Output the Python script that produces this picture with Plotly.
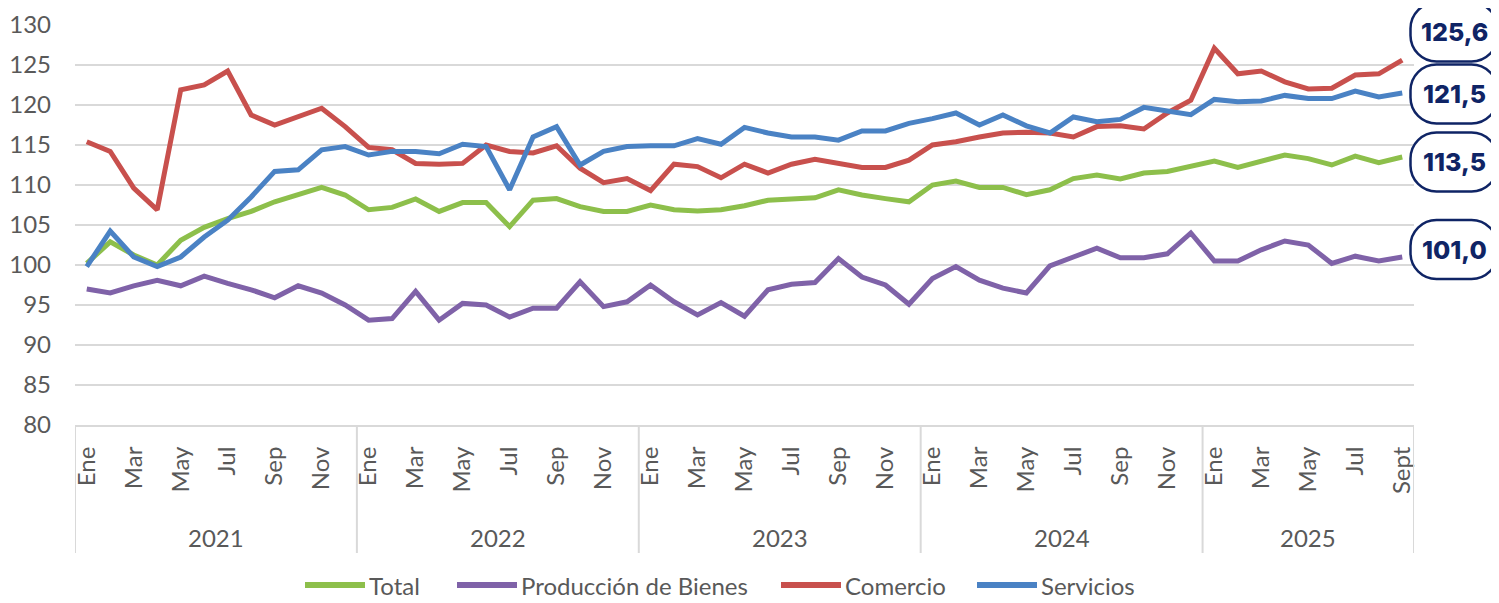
import plotly.graph_objects as go

years = ["2021", "2022", "2023", "2024", "2025"]
tick_labels = ["Ene", "Mar", "May", "Jul", "Sep", "Nov"] * 4 + ["Ene", "Mar", "May", "Jul", "Sept"]

total = [100.2, 102.9, 101.25, 100.0, 103.1, 104.7, 105.8, 106.7, 107.9, 108.75, 109.7, 108.75,
         106.9, 107.2, 108.25, 106.7, 107.8, 107.8, 104.8, 108.1, 108.3, 107.3, 106.7, 106.7,
         107.5, 106.9, 106.75, 106.9, 107.4, 108.1, 108.25, 108.4, 109.4, 108.75, 108.3, 107.9,
         110.0, 110.5, 109.7, 109.7, 108.8, 109.4, 110.8, 111.25, 110.75, 111.5, 111.7, 112.3,
         113.0, 112.2, 113.0, 113.75, 113.3, 112.5, 113.6, 112.8, 113.5]
produccion = [97.0, 96.5, 97.4, 98.1, 97.4, 98.6, 97.7, 96.9, 95.9, 97.4, 96.5, 95.0,
              93.1, 93.3, 96.7, 93.1, 95.2, 95.0, 93.5, 94.6, 94.6, 97.9, 94.8, 95.4,
              97.5, 95.4, 93.75, 95.3, 93.6, 96.9, 97.6, 97.8, 100.8, 98.5, 97.5, 95.1,
              98.3, 99.8, 98.1, 97.1, 96.5, 99.9, 101.0, 102.1, 100.9, 100.9, 101.4, 104.0,
              100.5, 100.5, 101.9, 103.0, 102.5, 100.2, 101.1, 100.5, 101.0]
comercio = [115.4, 114.2, 109.6, 106.9, 121.9, 122.5, 124.25, 118.75, 117.5, 118.5, 119.6, 117.3,
            114.7, 114.4, 112.7, 112.6, 112.7, 115.0, 114.2, 114.0, 114.9, 112.1, 110.3, 110.8,
            109.3, 112.6, 112.3, 110.9, 112.6, 111.5, 112.6, 113.2, 112.7, 112.2, 112.2, 113.1,
            115.0, 115.4, 116.0, 116.5, 116.6, 116.5, 116.0, 117.3, 117.4, 117.0, 119.0, 120.6,
            127.1, 123.9, 124.25, 122.9, 122.0, 122.1, 123.75, 123.9, 125.6]
servicios = [99.8, 104.25, 101.0, 99.8, 101.0, 103.5, 105.6, 108.5, 111.7, 111.9, 114.4, 114.8,
             113.75, 114.2, 114.2, 113.9, 115.1, 114.8, 109.4, 116.0, 117.3, 112.5, 114.2, 114.8,
             114.9, 114.9, 115.8, 115.1, 117.2, 116.5, 116.0, 116.0, 115.6, 116.75, 116.75, 117.7,
             118.3, 119.0, 117.5, 118.75, 117.4, 116.5, 118.5, 117.9, 118.2, 119.7, 119.25, 118.8,
             120.7, 120.4, 120.5, 121.2, 120.8, 120.8, 121.75, 121.0, 121.5]
end_labels = ["125,6", "121,5", "113,5", "101,0"]

n = len(total)
x = list(range(n))
tick_vals = [i for i in range(n) if i % 2 == 0]

GRAY = "#595959"
GRID = "#d9d9d9"
NAVY = "#0f2465"
FONT = "Lato"

series = [
    ("Total", total, "#8dbf4b"),
    ("Producción de Bienes", produccion, "#7f62a8"),
    ("Comercio", comercio, "#c8504d"),
    ("Servicios", servicios, "#4a82c4"),
]

fig = go.Figure()
for name, vals, col in series:
    fig.add_trace(go.Scatter(x=x, y=vals, mode="lines", name=name, showlegend=False,
                             line=dict(color=col, width=5)))

# plot-area pixel geometry (page coordinates) used to place decorations
PX0, PX1, PY0, PY1 = 75, 1414, 25, 425
def px_to_paper_x(px):
    return (px - PX0) / (PX1 - PX0)
def py_to_paper_y(py):
    return (PY1 - py) / (PY1 - PY0)

# year separators and labels
bounds = [-0.5 + 12 * k for k in range(len(years))] + [n - 0.5]
shapes = []
for b in bounds:
    shapes.append(dict(type="line", xref="x", yref="paper", x0=b, x1=b, y0=0, y1=-0.32,
                       line=dict(color=GRID, width=2)))
annotations = []
for k, yr in enumerate(years):
    mid = (bounds[k] + bounds[k + 1]) / 2
    annotations.append(dict(x=mid, y=-0.28, xref="x", yref="paper", text=yr, showarrow=False,
                            font=dict(family=FONT, size=24, color=GRAY), yanchor="middle"))

# manual legend (line swatch + label)
legend_line_start = [305, 457, 781, 977]
leg_y = py_to_paper_y(585)
for (name, _, col), lx in zip(series, legend_line_start):
    shapes.append(dict(type="line", xref="paper", yref="paper",
                       x0=px_to_paper_x(lx), x1=px_to_paper_x(lx + 60), y0=leg_y, y1=leg_y,
                       line=dict(color=col, width=6)))
    annotations.append(dict(x=px_to_paper_x(lx + 62), y=leg_y, xref="paper", yref="paper",
                            text=name, showarrow=False, xanchor="left", yanchor="middle",
                            font=dict(family=FONT, size=24, color=GRAY)))

# rounded end-value boxes
def pill(w, h, r):
    k = 0.5523 * r
    hw, hh = w / 2, h / 2
    return (f"M {-hw + r},{-hh} L {hw - r},{-hh} "
            f"C {hw - r + k},{-hh} {hw},{-hh + r - k} {hw},{-hh + r} "
            f"L {hw},{hh - r} "
            f"C {hw},{hh - r + k} {hw - r + k},{hh} {hw - r},{hh} "
            f"L {-hw + r},{hh} "
            f"C {-hw + r - k},{hh} {-hw},{hh - r + k} {-hw},{hh - r} "
            f"L {-hw},{-hh + r} "
            f"C {-hw},{-hh + r - k} {-hw + r - k},{-hh} {-hw + r},{-hh} Z")

box_x = px_to_paper_x(1454)
box_y = [py_to_paper_y(v) for v in (32, 94, 162, 249.5)]
for lab, by in zip(end_labels, box_y):
    shapes.append(dict(type="path", xref="paper", yref="paper", xsizemode="pixel", ysizemode="pixel",
                       xanchor=box_x, yanchor=by, path=pill(87, 59, 26),
                       line=dict(color=NAVY, width=2.5), fillcolor="white"))
    annotations.append(dict(x=box_x, y=by, xref="paper", yref="paper", text=lab, showarrow=False,
                            font=dict(family="Inter", size=25, color=NAVY, weight=800),
                            xanchor="center", yanchor="middle"))

# page body adds an 8px offset; compensate so the plot area lands at x 75-1414, y 25-425
fig.update_layout(
    width=1491, height=595,
    margin=dict(l=67, r=85, t=17, b=178, autoexpand=False),
    paper_bgcolor="white", plot_bgcolor="white",
    showlegend=False,
    shapes=shapes, annotations=annotations,
    xaxis=dict(range=[-0.5, n - 0.5], tickmode="array", tickvals=tick_vals, ticktext=tick_labels,
               tickangle=-90, tickfont=dict(family=FONT, size=24, color=GRAY),
               showgrid=False, zeroline=False, showline=True, linecolor=GRID, linewidth=2,
               ticks="", ticklabelstandoff=10),
    yaxis=dict(range=[80, 130], tickmode="array", tickvals=list(range(80, 131, 5)),
               tickfont=dict(family=FONT, size=24, color=GRAY), showgrid=True, gridcolor=GRID,
               gridwidth=2, zeroline=False, showline=False, ticks="", ticklabelstandoff=23),
)

fig.write_html("out.html")
